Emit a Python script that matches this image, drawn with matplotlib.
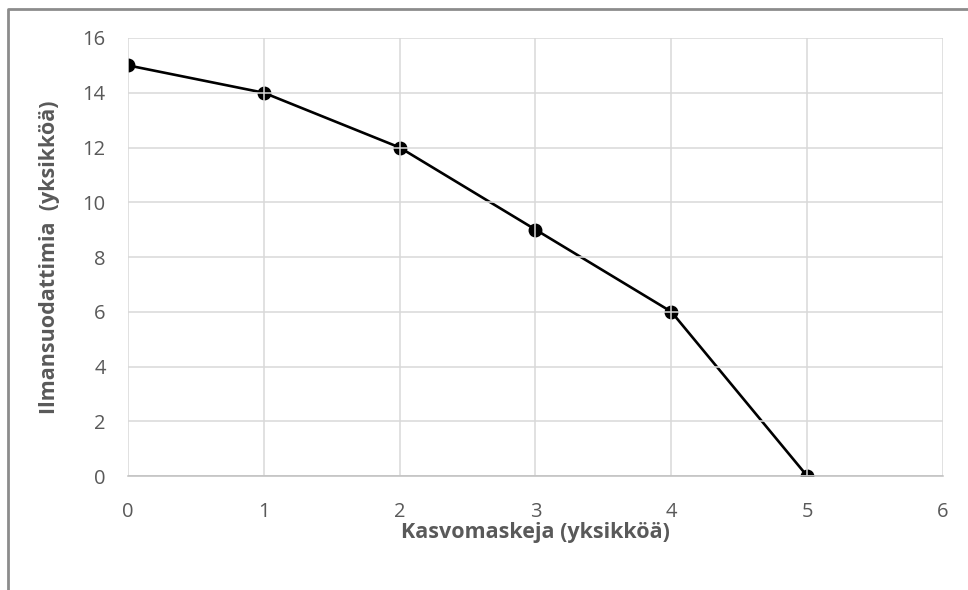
import matplotlib.pyplot as plt
from matplotlib.lines import Line2D

# data
masks = [0, 1, 2, 3, 4, 5]
filters = [15, 14, 12, 9, 6, 0]
x_ticks = [0, 1, 2, 3, 4, 5, 6]
y_ticks = [0, 2, 4, 6, 8, 10, 12, 14, 16]

grey_text = '#595959'
plt.rcParams['font.family'] = ['Open Sans', 'DejaVu Sans']

fig = plt.figure(figsize=(9.68, 5.90), dpi=100)
ax = fig.add_axes([0.1322, 0.1932, 0.842, 0.7424])

ax.plot(masks, filters, color='black', linewidth=1.9, marker='o',
        markersize=9, zorder=2)

ax.set_xlim(0, 6)
ax.set_ylim(0, 16)
ax.set_xticks(x_ticks)
ax.set_yticks(y_ticks)

ax.set_axisbelow(False)
ax.grid(True, color='#d9d9d9', linewidth=1.1)
for side in ['top', 'left', 'right']:
    ax.spines[side].set_visible(False)
ax.spines['bottom'].set_color('#bfbfbf')
ax.spines['bottom'].set_linewidth(1.1)
ax.spines['bottom'].set_zorder(3)

ax.tick_params(length=0, labelsize=14.5, labelcolor=grey_text)
ax.tick_params(axis='x', pad=18.5)
ax.tick_params(axis='y', pad=16)

ax.set_xlabel('Kasvomaskeja (yksikköä)', fontsize=15.5, fontweight='bold',
              color=grey_text, labelpad=0)
ax.set_ylabel('Ilmansuodattimia  (yksikköä)', fontsize=15.5, fontweight='bold',
              color=grey_text, labelpad=16)

# outer chart frame (only top and left edges are in view)
fig.add_artist(Line2D([8 / 968, 8 / 968, 1.0], [0.0, 1 - 9 / 590, 1 - 9 / 590],
                      transform=fig.transFigure, color='#8c8c8c', linewidth=2))

fig.savefig('out.png', dpi=100)
